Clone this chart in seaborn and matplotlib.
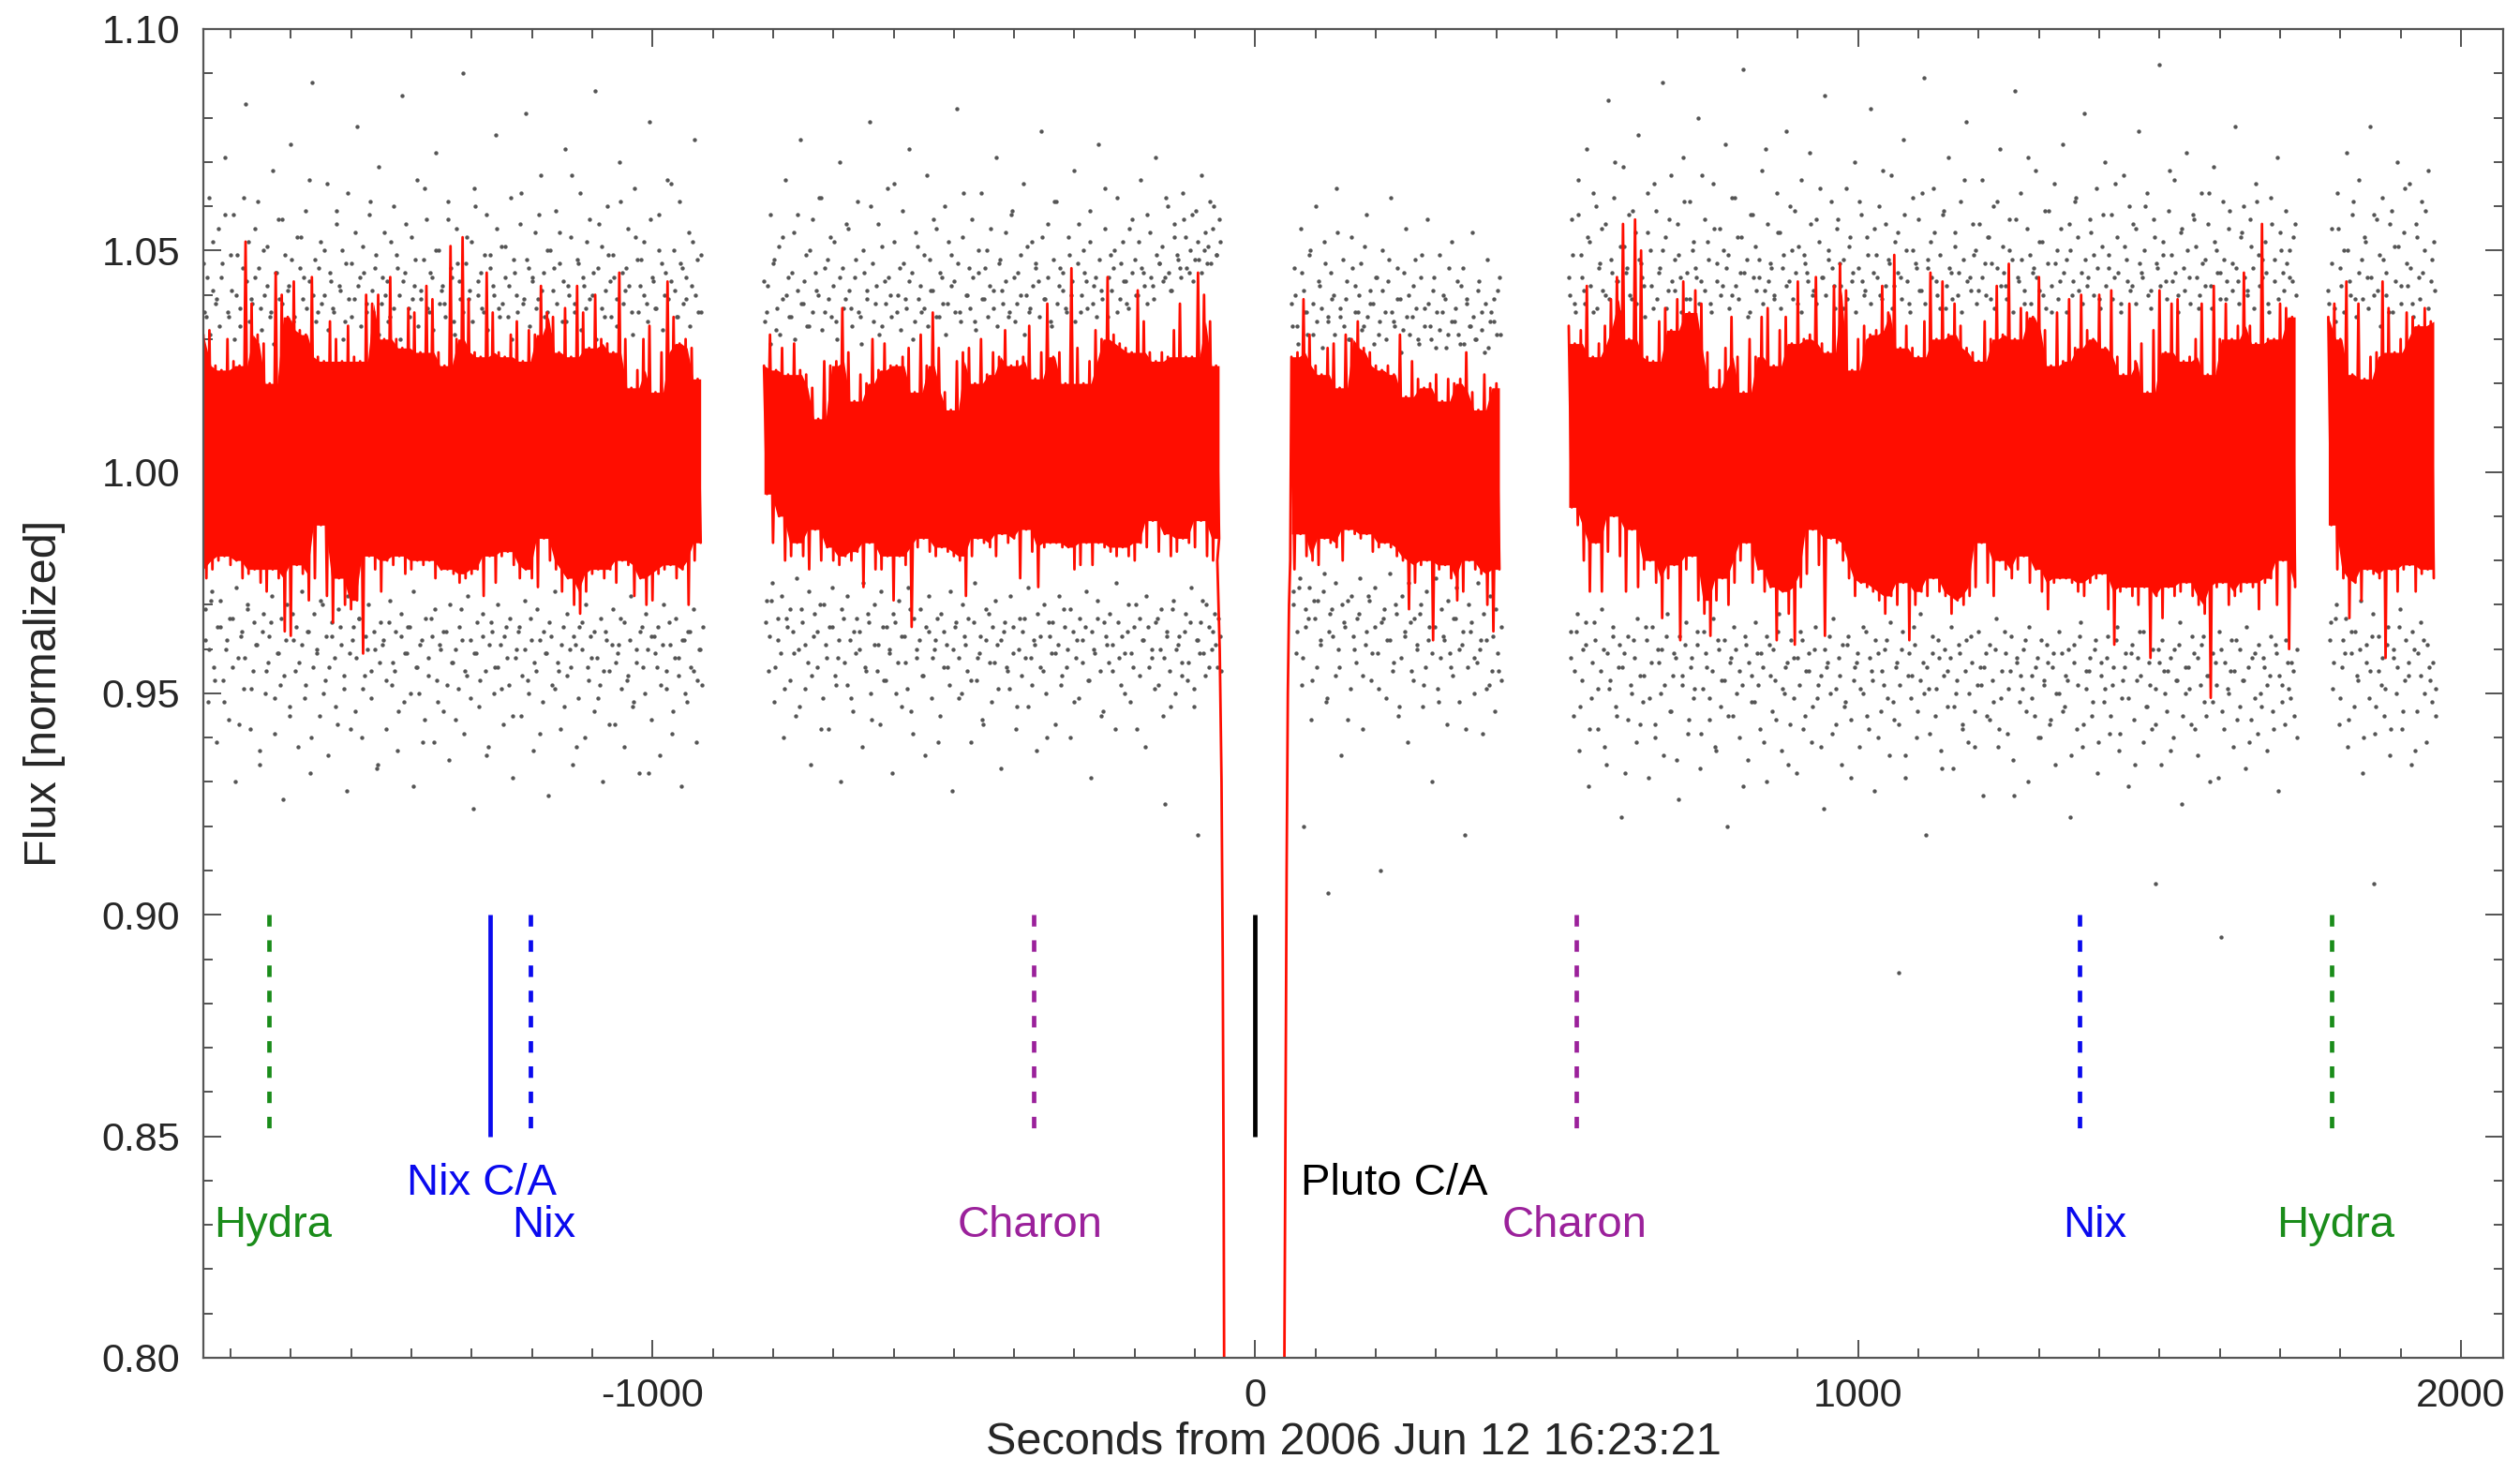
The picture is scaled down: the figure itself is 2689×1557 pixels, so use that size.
import numpy as np
import pandas as pd
import seaborn as sns
import matplotlib.pyplot as plt
from matplotlib.ticker import MultipleLocator, FormatStrFormatter

# segments of the light curve: start time (s) and number of 10 s bins
seg_start = [-1745, -815, 60, 520, 1780]
seg_bins = [83, 76, 35, 121, 18]
seg_unit = [0, 1, 1, 2, 3]   # seg 2 and 3 are joined through the occultation dip

# red curve: upper / lower excursion per 10 s bin, in 1e-3 of normalized flux
red_hi = [
    31, 32, 24, 23, 30, 25, 24, 52, 38, 31, 29, 20, 45, 40, 35, 43, 32, 31, 44, 26,
    25, 34, 30, 25, 33, 26, 25, 40, 38, 40, 30, 44, 30, 28, 37, 36, 27, 42, 39, 27,
    24, 51, 30, 53, 39, 27, 26, 45, 36, 27, 26, 31, 34, 25, 32, 31, 42, 36, 35, 27,
    37, 26, 42, 36, 28, 40, 30, 29, 27, 45, 30, 19, 23, 30, 33, 18, 27, 43, 35, 29,
    30, 28, 21,
    24, 31, 23, 28, 22, 29, 23, 22, 19, 12, 25, 24, 25, 37, 27, 16, 22, 20, 30, 23,
    29, 24, 24, 26, 28, 18, 31, 24, 36, 28, 18, 14, 25, 27, 28, 20, 30, 22, 27, 26,
    32, 24, 25, 26, 33, 21, 27, 38, 26, 27, 20, 46, 28, 20, 25, 32, 30, 44, 31, 29,
    28, 27, 41, 34, 27, 25, 27, 26, 32, 38, 26, 26, 45, 40, 34, 24,
    26, 27, 39, 31, 24, 22, 28, 29, 19, 31, 30, 34, 28, 27, 24, 23, 24, 22, 31, 17,
    25, 21, 19, 20, 22, 16, 21, 20, 21, 27, 18, 14, 22, 19, 20,
    33, 29, 32, 42, 26, 29, 33, 39, 44, 56, 30, 57, 50, 26, 25, 34, 37, 32, 39, 43,
    36, 41, 38, 27, 19, 23, 28, 35, 26, 18, 30, 26, 35, 37, 24, 32, 35, 29, 43, 30,
    31, 44, 29, 27, 42, 47, 41, 23, 30, 33, 31, 32, 42, 36, 49, 28, 33, 28, 26, 34,
    45, 30, 43, 31, 38, 33, 28, 27, 25, 34, 30, 42, 31, 47, 30, 37, 36, 35, 44, 32,
    24, 36, 25, 39, 28, 40, 32, 30, 40, 28, 41, 26, 22, 38, 25, 29, 18, 32, 41, 27,
    38, 39, 25, 26, 30, 38, 22, 42, 30, 38, 30, 33, 45, 33, 29, 56, 30, 30, 38, 37,
    35,
    35, 38, 30, 43, 22, 38, 21, 26, 27, 43, 37, 27, 30, 36, 35, 33, 37, 34,
]
red_lo = [
    -24, -22, -20, -19, -21, -20, -24, -23, -22, -25, -27, -22, -24, -36, -37, -21, -23, -29, -24, -12,
    -28, -34, -24, -30, -31, -29, -41, -19, -22, -27, -20, -21, -19, -23, -22, -20, -21, -20, -24, -22,
    -22, -23, -25, -24, -23, -22, -28, -19, -25, -19, -18, -21, -24, -22, -24, -26, -15, -20, -22, -27,
    -24, -30, -32, -27, -23, -22, -24, -22, -25, -20, -21, -28, -24, -30, -29, -23, -22, -21, -24, -22,
    -30, -20, -16,
    -5, -16, -10, -20, -19, -16, -19, -22, -13, -20, -17, -20, -21, -19, -20, -18, -26, -16, -22, -22,
    -19, -29, -19, -21, -35, -17, -15, -18, -19, -17, -18, -19, -20, -28, -19, -15, -16, -17, -19, -14,
    -16, -15, -24, -13, -18, -26, -17, -16, -16, -17, -17, -22, -21, -16, -21, -16, -17, -18, -19, -17,
    -19, -20, -16, -17, -11, -18, -14, -19, -18, -15, -16, -17, -11, -19, -20, -15,
    -22, -14, -19, -20, -21, -15, -16, -17, -20, -13, -14, -15, -14, -18, -17, -16, -17, -19, -20, -31,
    -25, -21, -20, -38, -22, -21, -24, -29, -27, -20, -22, -23, -30, -36, -22,
    -8, -12, -20, -27, -16, -27, -18, -10, -19, -27, -13, -26, -22, -20, -25, -33, -24, -21, -38, -22,
    -19, -29, -32, -37, -29, -24, -30, -25, -20, -16, -25, -22, -27, -26, -38, -27, -32, -39, -26, -23,
    -13, -21, -37, -15, -16, -20, -24, -28, -25, -26, -27, -29, -32, -28, -30, -25, -38, -30, -27, -28,
    -24, -27, -28, -32, -29, -30, -28, -26, -16, -25, -28, -20, -22, -24, -22, -19, -25, -22, -27, -31,
    -25, -24, -24, -25, -27, -28, -25, -24, -23, -31, -39, -27, -26, -28, -30, -26, -42, -28, -33, -26,
    -28, -27, -25, -28, -30, -32, -51, -26, -25, -30, -28, -27, -25, -26, -31, -25, -24, -30, -20, -40,
    -26,
    -12, -22, -24, -33, -25, -29, -22, -23, -24, -42, -22, -27, -22, -21, -27, -23, -22, -24,
]

# occultation ingress / egress of the red curve
dip_in_t = [-63, -59, -56, -54, -52.5, -51.5]
dip_in_f = [0.980, 0.960, 0.930, 0.890, 0.840, 0.790]
dip_out_t = [48, 50, 52, 54, 56, 58]
dip_out_f = [0.790, 0.850, 0.910, 0.950, 0.970, 0.980]

# raw points (gray), every 5 s, in 1e-3: wide scatter above / below the band
gray_up = [
    47, 35, 62, 41, 38, 55, 44, 71, 36, 49, 58, 40, 33, 46, 83, 52, 39, 44, 61, 37,
    50, 42, 35, 68, 45, 57, 38, 49, 41, 74, 34, 53, 46, 39, 59, 43, 88, 48, 36, 52,
    40, 65, 45, 37, 56, 42, 50, 34, 63, 47, 39, 78, 44, 51, 36, 58, 41, 46, 69, 38,
    54, 43, 35, 60, 49, 40, 85, 45, 37, 53, 42, 66, 39, 48, 57, 36, 44, 72, 50, 41,
    38, 61, 46, 34, 55, 43, 90, 47, 39, 52, 64, 40, 45, 36, 58, 49, 42, 76, 37, 51,
    44, 35, 62, 48, 40, 56, 38, 81, 46, 43, 54, 39, 67, 45, 36, 50, 41, 59, 47, 34,
    73, 42, 53, 38, 48, 63, 44, 37, 57, 40, 86, 46, 51, 35, 60, 43, 49, 39, 70, 45,
    41, 55, 36, 64, 48, 42, 52, 38, 79, 44, 37, 58, 47, 40, 66, 43, 50, 35, 61, 46,
    39, 54, 42, 75, 48, 36,
    43, 36, 58, 47, 32, 51, 39, 66, 44, 35, 54, 41, 75, 38, 49, 33, 57, 45, 40, 62,
    36, 48, 53, 42, 34, 70, 46, 39, 55, 37, 44, 61, 35, 50, 41, 79, 47, 38, 56, 33,
    43, 64, 40, 52, 36, 46, 59, 39, 73, 45, 34, 51, 42, 37, 67, 48, 41, 55, 35, 44,
    60, 38, 49, 43, 82, 36, 53, 40, 46, 57, 34, 45, 63, 39, 50, 42, 37, 71, 47, 41,
    54, 35, 58, 44, 38, 49, 65, 40, 36, 52, 46, 43, 77, 39, 56, 34, 48, 61, 42, 45,
    37, 53, 40, 68, 47, 36, 50, 43, 59, 38, 44, 74, 41, 55, 35, 49, 46, 62, 39, 52,
    43, 37, 57, 48, 40, 66, 45, 38, 54, 42, 71, 47, 51, 44, 60, 41, 56, 49, 46, 63,
    53, 45, 58, 48, 52, 67, 50, 47, 61, 55, 49, 57,
    38, 46, 33, 55, 41, 36, 49, 31, 60, 43, 37, 52, 34, 45, 40, 64, 35, 48, 39, 30,
    53, 42, 36, 47, 33, 58, 41, 38, 44, 31, 50, 36, 43, 62, 34, 46, 39, 32, 55, 40,
    35, 48, 30, 44, 37, 57, 33, 41, 28, 49, 36, 39, 31, 52, 34, 43, 29, 46, 38, 33,
    54, 30, 41, 36, 27, 48, 34, 39, 31, 44,
    44, 57, 38, 66, 49, 41, 73, 52, 36, 60, 46, 55, 40, 84, 48, 62, 43, 51, 69, 45,
    58, 39, 54, 76, 47, 42, 63, 50, 37, 59, 45, 88, 53, 41, 67, 48, 56, 44, 71, 39,
    61, 50, 46, 80, 43, 57, 52, 38, 65, 47, 55, 42, 74, 49, 40, 62, 53, 45, 91, 48,
    36, 58, 51, 44, 68, 41, 56, 47, 39, 63, 54, 46, 77, 43, 50, 59, 38, 66, 49, 45,
    72, 40, 57, 52, 44, 85, 48, 61, 42, 55, 47, 37, 64, 51, 43, 70, 46, 58, 40, 53,
    82, 45, 49, 60, 39, 56, 48, 67, 42, 54, 44, 75, 50, 38, 62, 47, 57, 41, 89, 46,
    52, 64, 43, 49, 58, 37, 71, 45, 54, 40, 61, 48, 79, 44, 56, 50, 41, 66, 47, 53,
    39, 60, 46, 73, 51, 42, 57, 48, 86, 44, 63, 38, 55, 49, 45, 68, 41, 52, 59, 47,
    36, 65, 50, 43, 74, 48, 56, 40, 61, 53, 45, 81, 42, 57, 49, 64, 39, 51, 70, 46,
    58, 44, 53, 38, 67, 48, 60, 42, 55, 77, 45, 50, 63, 41, 57, 47, 92, 52, 43, 59,
    49, 66, 40, 54, 46, 72, 44, 58, 51, 37, 63, 48, 56, 42, 69, 50, 45, 61, 39, 55,
    47, 78, 43, 53, 60, 41, 57, 46, 65, 49, 44, 52, 38, 62, 48, 71, 54, 45, 59, 50,
    43, 56,
    41, 55, 37, 63, 46, 50, 72, 43, 58, 39, 66, 48, 53, 44, 78, 40, 57, 49,
    62, 45, 36, 59, 51, 70, 42, 54, 47, 65, 38, 56, 44, 61, 50, 68, 43, 52,
]
gray_dn = [
    -38, -52, -29, -44, -61, -35, -47, -40, -56, -33, -70, -42, -37, -49, -31, -58, -45, -39, -66, -36,
    -50, -43, -34, -59, -41, -48, -74, -38, -53, -32, -45, -62, -39, -51, -36, -68, -44, -40, -55, -30,
    -47, -64, -37, -42, -57, -35, -49, -72, -41, -38, -54, -33, -60, -46, -40, -51, -36, -67, -43, -39,
    -58, -34, -48, -45, -63, -37, -52, -41, -35, -71, -44, -50, -38, -56, -42, -33, -61, -47, -39, -54,
    -36, -65, -43, -40, -49, -31, -59, -46, -38, -76, -41, -53, -37, -45, -62, -34, -50, -44, -39, -57,
    -35, -48, -69, -42, -36, -55, -40, -47, -33, -63, -45, -38, -52, -41, -73, -37, -49, -43, -58, -35,
    -46, -40, -66, -39, -51, -34, -60, -44, -37, -54, -42, -48, -70, -36, -45, -39, -57, -41, -33, -62,
    -47, -38, -53, -43, -68, -35, -50, -40, -56, -37, -44, -64, -39, -49, -34, -59, -42, -46, -71, -38,
    -52, -36, -45, -61, -40, -48,
    -34, -45, -29, -52, -38, -41, -60, -33, -47, -36, -55, -40, -31, -49, -43, -66, -37, -44, -30, -51,
    -39, -58, -35, -46, -42, -70, -33, -48, -38, -54, -41, -36, -62, -44, -32, -50, -39, -45, -57, -35,
    -47, -40, -68, -34, -43, -53, -37, -49, -31, -59, -42, -38, -46, -64, -36, -51, -40, -33, -55, -44,
    -39, -48, -72, -35, -42, -50, -37, -45, -61, -34, -47, -41, -56, -38, -32, -52, -43, -39, -67, -36,
    -44, -49, -35, -58, -40, -46, -33, -53, -42, -38, -63, -37, -45, -50, -34, -41, -57, -39, -48, -31,
    -44, -60, -36, -42, -51, -38, -35, -47, -69, -40, -33, -45, -54, -37, -43, -39, -58, -34, -48, -41,
    -36, -52, -44, -30, -46, -38, -62, -35, -42, -49, -33, -40, -55, -37, -45, -31, -50, -39, -43, -36,
    -47, -34, -53, -38, -41, -29, -46, -35, -40, -32, -44, -37,
    -30, -41, -26, -48, -35, -33, -56, -29, -44, -38, -27, -52, -36, -31, -46, -40, -64, -34, -29, -49,
    -37, -43, -32, -58, -39, -28, -47, -35, -41, -90, -33, -51, -38, -45, -30, -55, -42, -36, -61, -34,
    -47, -40, -32, -53, -44, -38, -70, -35, -49, -42, -37, -57, -41, -46, -33, -52, -39, -82, -44, -36,
    -50, -43, -40, -59, -38, -48, -45, -54, -41, -47,
    -42, -55, -36, -63, -47, -39, -71, -51, -34, -58, -45, -40, -66, -49, -37, -53, -44, -78, -41, -56,
    -48, -38, -61, -46, -52, -35, -69, -43, -57, -40, -50, -64, -37, -54, -46, -42, -74, -48, -39, -59,
    -44, -51, -36, -67, -49, -41, -56, -45, -62, -38, -53, -47, -80, -43, -55, -40, -60, -48, -37, -65,
    -46, -52, -41, -58, -44, -70, -39, -54, -47, -36, -63, -50, -43, -57, -42, -68, -48, -38, -55, -45,
    -61, -40, -51, -46, -76, -44, -37, -59, -49, -42, -66, -53, -39, -56, -47, -43, -62, -50, -36, -58,
    -45, -72, -41, -54, -48, -38, -64, -52, -44, -57, -40, -69, -46, -51, -35, -60, -47, -43, -82, -49,
    -41, -55, -38, -63, -46, -53, -42, -67, -50, -39, -58, -45, -61, -37, -54, -48, -44, -73, -41, -56,
    -47, -40, -62, -51, -36, -59, -45, -65, -43, -52, -49, -38, -70, -46, -55, -42, -60, -48, -39, -57,
    -44, -66, -50, -41, -53, -47, -78, -43, -58, -37, -62, -49, -45, -55, -40, -68, -46, -52, -42, -59,
    -48, -38, -63, -51, -44, -71, -41, -56, -47, -36, -61, -53, -43, -58, -49, -40, -66, -45, -54, -42,
    -60, -47, -39, -75, -50, -44, -57, -41, -64, -48, -37, -55, -46, -52, -43, -69, -40, -58, -49, -45,
    -62, -38, -53, -47, -67, -44, -56, -41, -59, -50, -42, -63, -46, -54, -39, -72, -48, -57, -43, -51,
    -45, -60,
    -38, -49, -33, -57, -44, -41, -62, -36, -53, -46, -40, -68, -43, -51, -37, -59, -45, -48,
    -55, -39, -64, -42, -50, -35, -58, -47, -43, -66, -40, -54, -46, -38, -61, -44, -52, -49,
]
# second set of raw points, closer to the band (offset in time by 1.25 s)
gray_up2 = [
    36, 44, 31, 52, 39, 33, 47, 58, 35, 41, 30, 49, 37, 62, 43, 34, 38, 55, 46, 32,
    40, 51, 36, 29, 45, 39, 57, 33, 42, 48, 35, 31, 53, 44, 37, 66, 40, 34, 46, 38,
    50, 32, 43, 36, 59, 41, 30, 47, 39, 35, 54, 42, 33, 45, 38, 61, 36, 49, 31, 44,
    40, 34, 52, 37, 46, 30, 43, 56, 35, 39, 48, 33, 41, 64, 37, 45, 32, 50, 38, 42,
    35, 57, 44, 31, 47, 39, 36, 53, 41, 34, 60, 43, 37, 49, 32, 46, 40, 55, 35, 38,
    51, 42, 30, 45, 36, 63, 39, 48, 33, 44, 37, 58, 41, 35, 50, 31, 46, 38, 54, 43,
    34, 40, 67, 36, 47, 32, 42, 52, 39, 45, 30, 56, 37, 41, 49, 35, 44, 33, 61, 38,
    46, 42, 31, 53, 36, 48, 40, 34, 57, 43, 37, 50, 32, 45, 39, 65, 41, 35, 47, 38,
    44, 33, 52, 40, 36, 49,
    34, 42, 29, 48, 37, 31, 53, 40, 35, 45, 30, 58, 38, 43, 33, 50, 36, 41, 62, 32,
    46, 39, 35, 52, 30, 44, 37, 56, 41, 33, 48, 36, 29, 45, 39, 60, 34, 42, 31, 51,
    38, 44, 35, 65, 40, 32, 47, 37, 43, 30, 54, 39, 36, 49, 33, 41, 57, 35, 45, 38,
    31, 52, 42, 36, 47, 34, 63, 40, 37, 44, 32, 50, 39, 46, 35, 55, 41, 33, 48, 38,
    43, 36, 59, 34, 45, 40, 31, 51, 37, 42, 47, 35, 53, 39, 44, 33, 61, 38, 46, 41,
    36, 49, 43, 34, 56, 40, 45, 37, 52, 42, 35, 48, 39, 64, 44, 41, 50, 36, 47, 43,
    38, 55, 45, 40, 52, 46, 42, 58, 44, 39, 49, 47, 43, 62, 45, 41, 53, 48, 44, 57,
    46, 50, 43, 59, 48, 45, 54, 51, 47, 60, 49, 52,
    33, 40, 29, 45, 36, 31, 50, 38, 34, 42, 28, 47, 35, 39, 31, 54, 37, 33, 43, 30,
    46, 36, 40, 32, 51, 35, 38, 29, 44, 34, 41, 30, 48, 36, 33, 39, 27, 45, 35, 31,
    42, 37, 29, 49, 33, 38, 30, 44, 36, 32, 40, 28, 46, 34, 37, 31, 42, 29, 39, 33,
    35, 30, 43, 32, 38, 28, 36, 34, 41, 31,
    40, 49, 36, 58, 44, 38, 53, 42, 63, 37, 47, 41, 56, 39, 45, 70, 43, 36, 51, 46,
    40, 59, 38, 48, 44, 35, 54, 42, 65, 39, 46, 50, 37, 57, 43, 41, 49, 36, 61, 45,
    39, 52, 44, 38, 67, 41, 48, 36, 55, 43, 40, 50, 46, 37, 62, 42, 39, 53, 45, 35,
    58, 44, 41, 48, 38, 73, 43, 46, 40, 54, 37, 49, 42, 60, 39, 45, 51, 36, 47, 43,
    56, 41, 38, 64, 44, 40, 50, 46, 37, 57, 42, 48, 39, 53, 45, 36, 61, 43, 41, 49,
    38, 55, 44, 40, 68, 42, 47, 37, 52, 45, 39, 58, 43, 36, 50, 46, 41, 63, 38, 48,
    44, 54, 40, 37, 59, 42, 46, 39, 51, 45, 36, 66, 43, 41, 49, 38, 56, 44, 40, 53,
    47, 37, 61, 42, 45, 39, 50, 36, 57, 43, 48, 41, 71, 38, 46, 44, 52, 40, 37, 59,
    42, 47, 39, 55, 45, 36, 50, 43, 62, 41, 38, 48, 44, 54, 40, 46, 37, 58, 42, 49,
    39, 65, 45, 36, 51, 43, 41, 56, 38, 47, 44, 60, 40, 37, 53, 46, 42, 49, 39, 68,
    43, 45, 36, 55, 41, 50, 38, 57, 44, 40, 47, 42, 63, 37, 52, 45, 39, 48, 43, 59,
    41, 46, 38, 54, 44, 40, 51, 37, 61, 42, 48, 45, 36, 56, 43, 39, 50, 41, 47, 44,
    53, 40,
    38, 47, 34, 55, 42, 36, 50, 40, 61, 35, 45, 39, 52, 37, 44, 58, 41, 33,
    48, 40, 56, 36, 43, 51, 38, 64, 42, 46, 35, 53, 39, 45, 59, 37, 48, 41,
]
gray_dn2 = [
    -31, -40, -27, -47, -35, -29, -52, -38, -33, -44, -26, -57, -36, -42, -30, -49, -34, -39, -63, -32,
    -45, -37, -28, -51, -41, -33, -46, -30, -55, -38, -35, -43, -27, -48, -36, -60, -32, -41, -29, -50,
    -37, -44, -34, -53, -31, -39, -46, -28, -58, -35, -42, -33, -49, -37, -30, -45, -40, -66, -34, -38,
    -47, -29, -43, -36, -54, -32, -41, -35, -50, -27, -44, -39, -61, -33, -46, -37, -31, -52, -40, -36,
    -48, -30, -43, -56, -35, -38, -45, -28, -51, -41, -34, -47, -32, -64, -39, -36, -44, -30, -49, -37,
    -42, -33, -55, -40, -35, -46, -29, -50, -38, -43, -31, -59, -36, -41, -34, -48, -27, -45, -39, -53,
    -32, -44, -37, -62, -35, -40, -30, -47, -42, -36, -51, -33, -45, -38, -57, -31, -43, -39, -49, -34,
    -46, -28, -52, -40, -36, -44, -32, -68, -37, -41, -35, -48, -30, -45, -39, -54, -33, -42, -38, -50,
    -36, -44, -31, -47, -40, -35,
    -29, -37, -25, -44, -33, -28, -49, -35, -31, -41, -24, -53, -34, -39, -27, -46, -32, -36, -58, -30,
    -42, -35, -26, -48, -38, -31, -43, -28, -51, -36, -33, -40, -25, -45, -34, -56, -30, -39, -27, -47,
    -35, -41, -32, -50, -29, -37, -43, -26, -54, -33, -40, -31, -46, -35, -28, -42, -38, -61, -32, -36,
    -44, -27, -40, -34, -51, -30, -39, -33, -47, -25, -42, -37, -57, -31, -43, -35, -29, -49, -38, -34,
    -45, -28, -41, -53, -33, -36, -42, -26, -48, -39, -32, -44, -30, -60, -37, -34, -41, -28, -46, -35,
    -40, -31, -52, -38, -33, -43, -27, -47, -36, -41, -29, -55, -34, -39, -32, -45, -25, -42, -37, -50,
    -30, -41, -35, -58, -33, -38, -28, -44, -40, -34, -48, -31, -42, -36, -53, -29, -40, -37, -46, -32,
    -43, -26, -49, -38, -34, -41, -30, -44, -36, -39, -33, -45,
    -27, -36, -24, -42, -31, -26, -47, -33, -29, -39, -23, -51, -32, -37, -25, -44, -30, -35, -56, -28,
    -40, -33, -24, -46, -36, -29, -41, -26, -49, -34, -31, -38, -23, -43, -32, -53, -28, -37, -25, -45,
    -33, -39, -30, -48, -27, -35, -41, -24, -52, -31, -38, -29, -44, -33, -26, -40, -36, -58, -30, -34,
    -42, -25, -38, -32, -49, -28, -37, -31, -45, -35,
    -36, -45, -32, -53, -40, -34, -58, -43, -38, -49, -31, -62, -41, -47, -35, -55, -39, -44, -68, -37,
    -50, -42, -33, -57, -46, -38, -51, -35, -60, -43, -40, -48, -32, -54, -41, -65, -37, -46, -34, -56,
    -42, -49, -39, -59, -36, -44, -51, -33, -63, -40, -47, -38, -55, -42, -35, -50, -45, -71, -39, -43,
    -52, -34, -48, -41, -61, -37, -46, -40, -56, -32, -49, -44, -66, -38, -51, -42, -36, -58, -45, -41,
    -53, -35, -48, -62, -40, -43, -50, -33, -57, -46, -39, -52, -37, -69, -44, -41, -49, -35, -55, -42,
    -47, -38, -60, -45, -40, -51, -34, -56, -43, -48, -36, -64, -41, -46, -39, -54, -32, -50, -44, -59,
    -37, -49, -42, -67, -40, -45, -35, -53, -47, -41, -57, -38, -50, -43, -62, -36, -48, -44, -55, -39,
    -52, -33, -58, -45, -41, -49, -37, -73, -42, -46, -40, -54, -35, -51, -44, -60, -38, -47, -43, -56,
    -41, -50, -36, -54, -46, -40, -64, -39, -48, -34, -57, -45, -42, -52, -38, -61, -43, -49, -37, -55,
    -44, -35, -59, -47, -41, -51, -39, -66, -42, -46, -36, -53, -48, -40, -57, -43, -38, -50, -45, -63,
    -40, -47, -34, -55, -44, -49, -37, -58, -42, -39, -52, -46, -70, -41, -48, -36, -54, -43, -50, -38,
    -45, -56, -40, -47, -35, -61, -42, -51, -39, -53, -44, -48, -37, -58, -41, -46, -52, -38, -49, -43,
    -55, -40,
    -34, -43, -30, -51, -38, -33, -56, -41, -36, -47, -29, -60, -39, -45, -32, -53, -37, -42,
    -49, -35, -58, -40, -44, -31, -54, -38, -46, -36, -63, -41, -34, -50, -39, -47, -43, -55,
]
# a few isolated low points
stray_t = [-150, -95, 80, 120, 1068, 1494, 1602, 1856]
stray_f = [0.925, 0.918, 0.920, 0.905, 0.887, 0.907, 0.895, 0.907]

# satellite / closest-approach markers
mark_t = [-1636, -1270, -1203, -368, 0, 533, 1368, 1786]
mark_color = ['#1a8c1a', '#0a0aee', '#0a0aee', '#9b219b', 'black', '#9b219b', '#0a0aee', '#1a8c1a']
mark_solid = [False, True, False, False, True, False, False, False]
label_text = ['Hydra', 'Nix C/A', 'Nix', 'Charon', 'Pluto C/A', 'Charon', 'Nix', 'Hydra']
label_t = [-1630, -1283, -1180, -374, 76, 529, 1393, 1792]
label_f = [0.8273, 0.8368, 0.8273, 0.8273, 0.8368, 0.8273, 0.8273, 0.8273]

# build the red series (zig-zag between upper and lower excursion) and its solid core
red_rows = []
gray_rows = []
core_parts = []
pos = 0
for k, (t0, n) in enumerate(zip(seg_start, seg_bins)):
    hi = np.array(red_hi[pos:pos + n], dtype=float)
    lo = np.array(red_lo[pos:pos + n], dtype=float)
    hp, lp = np.pad(hi, 1, mode='edge'), np.pad(lo, 1, mode='edge')
    core_hi = np.minimum(np.minimum(hp[:-2], hp[1:-1]), hp[2:])
    core_lo = np.maximum(np.maximum(lp[:-2], lp[1:-1]), lp[2:])
    tc = t0 + 10 * np.arange(n) + 2.5
    tc[0], tc[-1] = t0, t0 + 10 * (n - 1) + 5
    core_parts.append((tc, 1 + core_lo / 1000, 1 + core_hi / 1000))

    if k == 2:
        for t, f in zip(dip_out_t, dip_out_f):
            red_rows.append((t, f, seg_unit[k]))
    for i in range(n):
        red_rows.append((t0 + 10 * i, 1 + hi[i] / 1000, seg_unit[k]))
        red_rows.append((t0 + 10 * i + 5, 1 + lo[i] / 1000, seg_unit[k]))
    for j in range(2 * n):
        tj = t0 + 5 * j
        gray_rows.append((tj, 1 + gray_up[2 * pos + j] / 1000))
        gray_rows.append((tj + 2.5, 1 + gray_dn[2 * pos + j] / 1000))
        gray_rows.append((tj + 1.25, 1 + gray_up2[2 * pos + j] / 1000))
        gray_rows.append((tj + 3.75, 1 + gray_dn2[2 * pos + j] / 1000))
    if k == 1:
        for t, f in zip(dip_in_t, dip_in_f):
            red_rows.append((t, f, seg_unit[k]))
    pos += n
gray_rows += list(zip(stray_t, stray_f))

red_df = pd.DataFrame(red_rows, columns=['t', 'flux', 'unit'])
gray_df = pd.DataFrame(gray_rows, columns=['t', 'flux'])

sns.set_style("ticks")
plt.rcParams['font.family'] = ['Liberation Sans', 'DejaVu Sans']
plt.rcParams['axes.unicode_minus'] = False

fig = plt.figure(figsize=(26.89, 15.57), dpi=100)
ax = fig.add_axes([0.0807, 0.0694, 0.9126, 0.9107])

red = '#ff0d00'
sns.scatterplot(data=gray_df, x='t', y='flux', s=10, color='#555555', linewidth=0,
                ax=ax, zorder=1, legend=False)
for tc, clo, chi in core_parts:
    ax.fill_between(tc, clo, chi, color=red, linewidth=0, zorder=2)
sns.lineplot(data=red_df, x='t', y='flux', units='unit', estimator=None, sort=False,
             color=red, linewidth=2.0, ax=ax, zorder=2, legend=False)

for t, c, solid in zip(mark_t, mark_color, mark_solid):
    ax.plot([t, t], [0.90, 0.85], color=c, lw=3.4,
            linestyle='-' if solid else (0, (2.6, 3.1)), solid_capstyle='butt', zorder=3)

for txt, t, f, c in zip(label_text, label_t, label_f, mark_color):
    ax.text(t, f, txt, color=c, fontsize=34, ha='left' if txt == 'Pluto C/A' else 'center',
            va='baseline', zorder=4)

ax.set_xlim(-1745, 2070)
ax.set_ylim(0.80, 1.10)
ax.xaxis.set_major_locator(MultipleLocator(1000))
ax.xaxis.set_minor_locator(MultipleLocator(100))
ax.yaxis.set_major_locator(MultipleLocator(0.05))
ax.yaxis.set_minor_locator(MultipleLocator(0.01))
ax.yaxis.set_major_formatter(FormatStrFormatter('%.2f'))
ax.tick_params(which='both', direction='in', top=True, right=True, color='#444444', width=1.3)
ax.tick_params(which='major', length=14, labelsize=31)
ax.tick_params(which='minor', length=7)
ax.tick_params(axis='y', which='major', pad=18)
ax.tick_params(axis='x', which='major', pad=15)
for sp in ax.spines.values():
    sp.set_color('#555555')
    sp.set_linewidth(1.6)

ax.set_xlabel('Seconds from 2006 Jun 12 16:23:21', fontsize=35)
ax.set_ylabel('Flux [normalized]', fontsize=35)
ax.xaxis.set_label_coords(0.5, -0.048)
ax.yaxis.set_label_coords(-0.060, 0.5)

plt.savefig('out.png', dpi=100)
